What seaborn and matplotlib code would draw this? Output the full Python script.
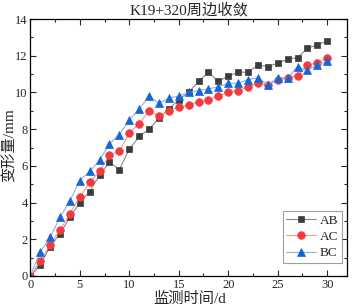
import numpy as np
import pandas as pd
import matplotlib
matplotlib.use("Agg")
import matplotlib.pyplot as plt
import seaborn as sns
from matplotlib.ticker import MultipleLocator

days = list(range(0, 31))
ab = [0, 0.6, 1.6, 2.3, 3.2, 4.0, 4.6, 5.5, 6.2, 5.8, 6.9, 7.6, 8.0, 8.6, 9.1, 9.6,
      10.0, 10.6, 11.1, 10.6, 10.9, 11.1, 11.1, 11.5, 11.4, 11.6, 11.8, 11.9, 12.4, 12.6, 12.8]
ac = [0, 0.8, 1.7, 2.5, 3.4, 4.3, 5.1, 5.7, 6.6, 6.8, 7.8, 8.3, 9.0, 8.7, 9.0, 9.2,
      9.3, 9.5, 9.6, 9.8, 10.0, 10.1, 10.3, 10.5, 10.4, 10.7, 10.8, 10.9, 11.5, 11.6, 11.9]
bc = [0, 1.3, 2.1, 3.2, 4.1, 5.2, 5.7, 6.3, 7.2, 7.7, 8.5, 9.1, 9.8, 9.4, 9.7, 9.8,
      10.0, 10.1, 10.2, 10.3, 10.5, 10.5, 10.7, 10.8, 10.4, 10.8, 10.8, 11.4, 11.2, 11.5, 11.7]
series_names = ["AB", "AC", "BC"]

sns.set_style("ticks")
plt.rcParams['font.family'] = ['Liberation Serif', 'Noto Sans CJK SC']
plt.rcParams['axes.unicode_minus'] = False

fig = plt.figure(figsize=(3.54, 3.07), dpi=100)
ax = fig.add_axes([30.3 / 354, 1 - 276 / 307, (347 - 30.3) / 354, (276 - 19) / 307])

styles = {
    "AB": dict(marker="s", mcolor="#3c3c3c", lcolor="#8a8a8a", ms=5.0),
    "AC": dict(marker="o", mcolor="#f03a3e", lcolor="#f59a9c", ms=5.5),
    "BC": dict(marker="^", mcolor="#1565d8", lcolor="#8bb3ec", ms=6.0),
}
df = pd.DataFrame({"day": days * 3, "value": ab + ac + bc,
                   "series": sum([[n] * len(days) for n in series_names], [])})

for name in series_names:
    st = styles[name]
    sub = df[df.series == name]
    sns.lineplot(data=sub, x="day", y="value", ax=ax, color=st["lcolor"], lw=0.8,
                 marker=st["marker"], markersize=st["ms"],
                 markerfacecolor=st["mcolor"], markeredgecolor=st["mcolor"],
                 markeredgewidth=0.5, label=name)

ax.set_xlim(0, 32)
ax.set_ylim(0, 14)
ax.xaxis.set_major_locator(MultipleLocator(5))
ax.xaxis.set_minor_locator(MultipleLocator(2.5))
ax.yaxis.set_major_locator(MultipleLocator(2))
ax.yaxis.set_minor_locator(MultipleLocator(1))
ax.tick_params(which="both", direction="in", top=True, right=True, labelsize=9,
               width=0.8, pad=2)
ax.tick_params(which="major", length=4)
ax.tick_params(which="minor", length=2.5)
for sp in ax.spines.values():
    sp.set_linewidth(0.9)
    sp.set_color("black")

ax.set_xlabel("监测时间/d", fontsize=11)
ax.set_ylabel("变形量/mm", fontsize=11)
ax.xaxis.set_label_coords(0.504, -0.09)
ax.yaxis.set_label_coords(-0.066, 0.51)
ax.xaxis.label.set_va("center")
ax.yaxis.label.set_va("center")
ax.set_title("K19+320周边收敛", fontsize=11, pad=3)

leg = ax.legend(loc="lower right", bbox_to_anchor=(0.984, 0.05), borderaxespad=0,
                fontsize=9.5, frameon=True, fancybox=False, edgecolor="#888888",
                handlelength=2.2, handletextpad=0.3, borderpad=0.3, labelspacing=0.3)
leg.get_frame().set_linewidth(0.8)

fig.savefig("out.png", dpi=100)
